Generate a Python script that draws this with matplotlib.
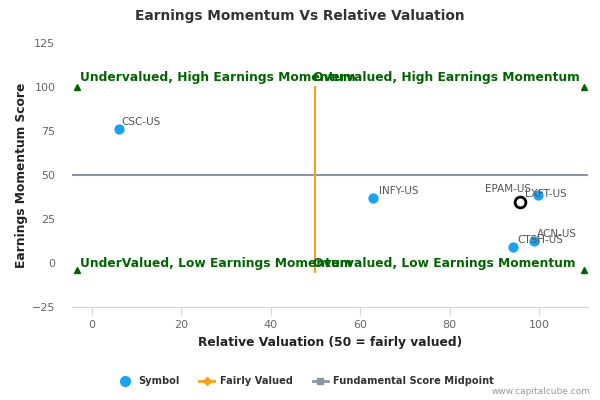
import matplotlib
matplotlib.use("Agg")
import matplotlib.pyplot as plt
from matplotlib.lines import Line2D

# data
symbols = ["CSC-US", "INFY-US", "LXFT-US", "ACN-US", "CTSH-US"]
valuation = [6.0, 62.9, 99.8, 98.9, 94.2]
momentum = [76.0, 36.9, 38.6, 12.5, 9.1]

focus_symbol = "EPAM-US"
focus_val = 95.7
focus_mom = 34.7

fair_value = 50
midpoint = 50
quad_x = [-3.4, 110]
quad_y = [-4, 100]

# label offsets in points (dx, dy)
label_off = {"CSC-US": (2, 1.5), "INFY-US": (4, 1.5), "LXFT-US": (-9, -2.5),
             "ACN-US": (2, 1.5), "CTSH-US": (3, 1.5), "EPAM-US": (-25, 5.5)}

green = "#006400"
blue = "#1aa3f0"

fig = plt.figure(figsize=(6, 4), dpi=100)
ax = fig.add_axes([0.12, 0.2325, 0.86, 0.66])

ax.set_xlim(-4.5, 111)
ax.set_ylim(-25, 125)

# midline and fair value line
ax.axhline(midpoint, color="#8e94a3", lw=1.5, zorder=1)
ax.plot([fair_value, fair_value], [-5, 100], color="#f7a21b", lw=1.5, zorder=1)

# corner triangles
for xx in quad_x:
    for yy in quad_y:
        ax.plot(xx, yy, marker="^", color=green, ms=5, zorder=3)

# quadrant labels
qfont = dict(color=green, fontsize=8.8, fontweight="bold", va="center", zorder=4)
ax.text(-2.7, 105.5, "Undervalued, High Earnings Momentum", ha="left", **qfont)
ax.text(49.5, 105.5, "Overvalued, High Earnings Momentum", ha="left", **qfont)
ax.text(-2.7, 0, "UnderValued, Low Earnings Momentum", ha="left", **qfont)
ax.text(49.5, 0, "Overvalued, Low Earnings Momentum", ha="left", **qfont)

# points
ax.scatter(valuation, momentum, s=55, color=blue, zorder=5, linewidths=0)
ax.scatter([focus_val], [focus_mom], s=60, facecolors="white", edgecolors="black",
           linewidths=2, zorder=6)

for name, xv, yv in zip(symbols + [focus_symbol], valuation + [focus_val], momentum + [focus_mom]):
    dx, dy = label_off[name]
    ax.annotate(name, (xv, yv), xytext=(dx, dy), textcoords="offset points",
                fontsize=7.5, color="#555555", ha="left", va="bottom", zorder=7)

# axes styling
for s in ["top", "right", "left"]:
    ax.spines[s].set_visible(False)
ax.spines["bottom"].set_color("#ccd6eb")
ax.set_xticks([0, 20, 40, 60, 80, 100])
ax.set_yticks([-25, 0, 25, 50, 75, 100, 125])
ax.tick_params(axis="x", colors="#ccd6eb", labelcolor="#666666", labelsize=8, length=6)
ax.tick_params(axis="y", length=0, labelcolor="#666666", labelsize=8, pad=12)

ax.set_xlabel("Relative Valuation (50 = fairly valued)", fontsize=8.8, fontweight="bold",
              color="#222222", labelpad=4)
ax.set_ylabel("Earnings Momentum Score", fontsize=8.8, fontweight="bold", color="#222222",
              labelpad=3)

fig.text(0.5, 0.96, "Earnings Momentum Vs Relative Valuation", ha="center", va="center",
         fontsize=9.9, fontweight="bold", color="#333333")

handles = [
    Line2D([], [], marker="o", color=blue, ls="none", ms=7),
    Line2D([], [], marker="D", color="#f7a21b", lw=2, ms=4),
    Line2D([], [], marker="s", color="#8e94a3", lw=2, ms=5),
]
leg = fig.legend(handles, ["Symbol", "Fairly Valued", "Fundamental Score Midpoint"],
                 loc="center", bbox_to_anchor=(0.51, 0.047), ncol=3, frameon=False,
                 fontsize=7.1, handlelength=1.5, columnspacing=2.0, handletextpad=0.6)
for t in leg.get_texts():
    t.set_fontweight("bold")
    t.set_color("#333333")

fig.text(0.985, 0.02, "www.capitalcube.com", ha="right", va="center", fontsize=6.5,
         color="#999999")

fig.savefig("out.png")
